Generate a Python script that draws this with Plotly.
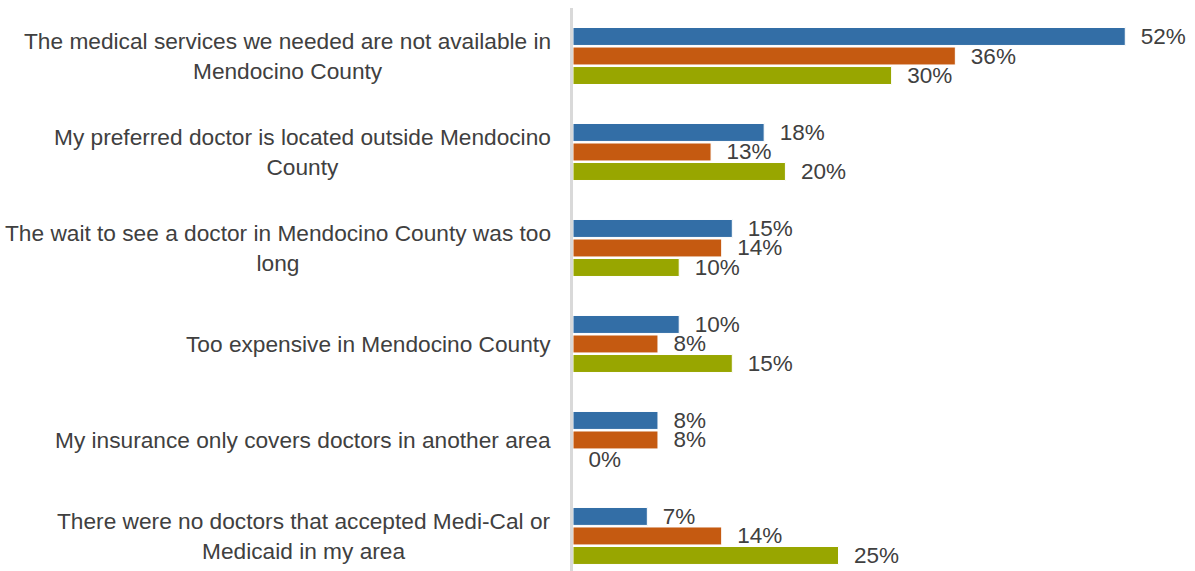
import plotly.graph_objects as go

categories = [
    "The medical services we needed are not available in<br>Mendocino County",
    "My preferred doctor is located outside Mendocino<br>County",
    "The wait to see a doctor in Mendocino County was too<br>long",
    "Too expensive in Mendocino County",
    "My insurance only covers doctors in another area",
    "There were no doctors that accepted Medi-Cal or<br>Medicaid in my area",
]
series_a = [52, 18, 15, 10, 8, 7]
series_b = [36, 13, 14, 8, 8, 14]
series_c = [30, 20, 10, 15, 0, 25]
colors = ["#336ea6", "#c55a11", "#98a600"]

FONT = "Liberation Sans"
fig = go.Figure()
for vals, col in zip([series_a, series_b, series_c], colors):
    fig.add_trace(go.Bar(
        y=list(range(len(categories))), x=vals, orientation="h",
        marker=dict(color=col, line=dict(color="white", width=1)),
        text=[f"{v}%" for v in vals], textposition="outside",
        texttemplate="  %{text}",
        constraintext="none", cliponaxis=False,
        textfont=dict(family=FONT, size=22.5, color="#404040"),
        hoverinfo="skip",
    ))

for i, c in enumerate(categories):
    fig.add_annotation(x=0, xref="paper", y=i, yref="y", text=c,
                       xanchor="right", yanchor="middle", align="center",
                       showarrow=False, xshift=-20,
                       font=dict(family=FONT, size=22.7, color="#404040"))

fig.update_layout(
    width=1195, height=571,
    margin=dict(l=573, r=6, t=8, b=0),
    barmode="group", bargap=0.39, bargroupgap=0.08,
    plot_bgcolor="white", paper_bgcolor="white",
    showlegend=False,
    xaxis=dict(range=[0, 58], visible=False, showgrid=False, zeroline=False),
    yaxis=dict(range=[5.365, -0.5], showticklabels=False, showgrid=False,
               zeroline=False, showline=True, linecolor="#d9d9d9", linewidth=3,
               ticks=""),
)
fig.write_html("out.html", config={"displayModeBar": False},
               post_script="document.body.style.margin='0';document.body.style.overflow='hidden';")
